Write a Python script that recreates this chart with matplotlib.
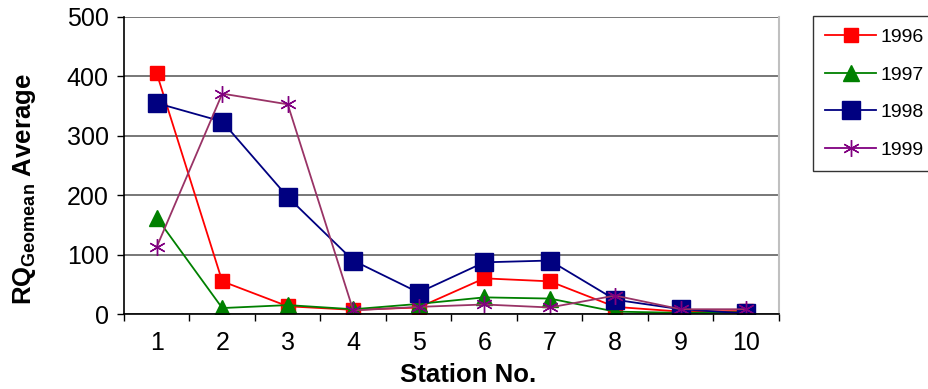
import numpy as np
import matplotlib.pyplot as plt
from matplotlib.ticker import FixedLocator

plt.rcParams['font.family'] = ['Liberation Sans', 'DejaVu Sans']
plt.rcParams['mathtext.fontset'] = 'custom'
plt.rcParams['mathtext.bf'] = 'Liberation Sans:bold'
plt.rcParams['mathtext.rm'] = 'Liberation Sans'

stations = np.arange(1, 11)
rq_1996 = [405, 55, 13, 7, 11, 60, 55, 12, 4, 5]
rq_1997 = [162, 10, 15, 8, 17, 28, 26, 4, 2, 3]
rq_1998 = [355, 324, 197, 90, 36, 87, 90, 24, 8, 1]
rq_1999 = [113, 371, 353, 6, 12, 16, 11, 31, 8, 8]

fig = plt.figure(figsize=(9.29, 3.89), dpi=100)
ax = fig.add_axes([124/929, 1 - 314/389, (779 - 124)/929, (314 - 17)/389])

ax.plot(stations, rq_1996, color='#ff0000', lw=1.3, marker='s', ms=10,
        mfc='#ff0000', mec='#ff0000', label='1996')
ax.plot(stations, rq_1997, color='#008000', lw=1.3, marker='^', ms=11,
        mfc='#008000', mec='#008000', label='1997')
ax.plot(stations, rq_1998, color='#000080', lw=1.3, marker='s', ms=13,
        mfc='#000080', mec='#000080', label='1998')
ax.plot(stations, rq_1999, color='#993366', lw=1.3, marker=(6, 2, 0), ms=12,
        mec='#800080', mew=1.0, label='1999')

ax.set_xlim(0.5, 10.5)
ax.set_ylim(0, 500)
ax.set_yticks([0, 100, 200, 300, 400, 500])
ax.set_xticks(stations)
ax.xaxis.set_minor_locator(FixedLocator(np.arange(0.5, 11, 1)))
ax.tick_params(axis='x', which='major', length=0, pad=12, labelsize=18)
ax.tick_params(axis='x', which='minor', length=5, width=1, direction='out')
ax.tick_params(axis='y', length=5, width=1, direction='out', labelsize=18, pad=6)

ax.yaxis.grid(True, color='#606060', lw=1.2)
ax.set_axisbelow(True)
ax.spines['top'].set_visible(False)
ax.spines['right'].set_color('#c0c0c0')
ax.spines['right'].set_linewidth(1.5)
ax.spines['left'].set_linewidth(1.2)
ax.spines['bottom'].set_linewidth(1.2)

ax.set_xlabel('Station No.', fontsize=18.5, fontweight='bold')
ax.xaxis.set_label_coords(0.525, -0.165)
ax.set_ylabel(r'$\mathbf{RQ}_{\mathbf{Geomean}}$ Average', fontsize=18.5,
              fontweight='bold')
ax.yaxis.set_label_coords(-0.131, 0.42)

leg = fig.legend(loc='upper left', bbox_to_anchor=(813/929, 1 - 16/389),
                 bbox_transform=fig.transFigure, fontsize=14, frameon=True,
                 fancybox=False, edgecolor='black', handlelength=2.6,
                 labelspacing=1.03, borderpad=0.63, borderaxespad=0,
                 handletextpad=0.25)
leg.get_frame().set_linewidth(1.0)
leg.legend_handles[3].set_color('#800080')

fig.savefig('out.png', dpi=100)
